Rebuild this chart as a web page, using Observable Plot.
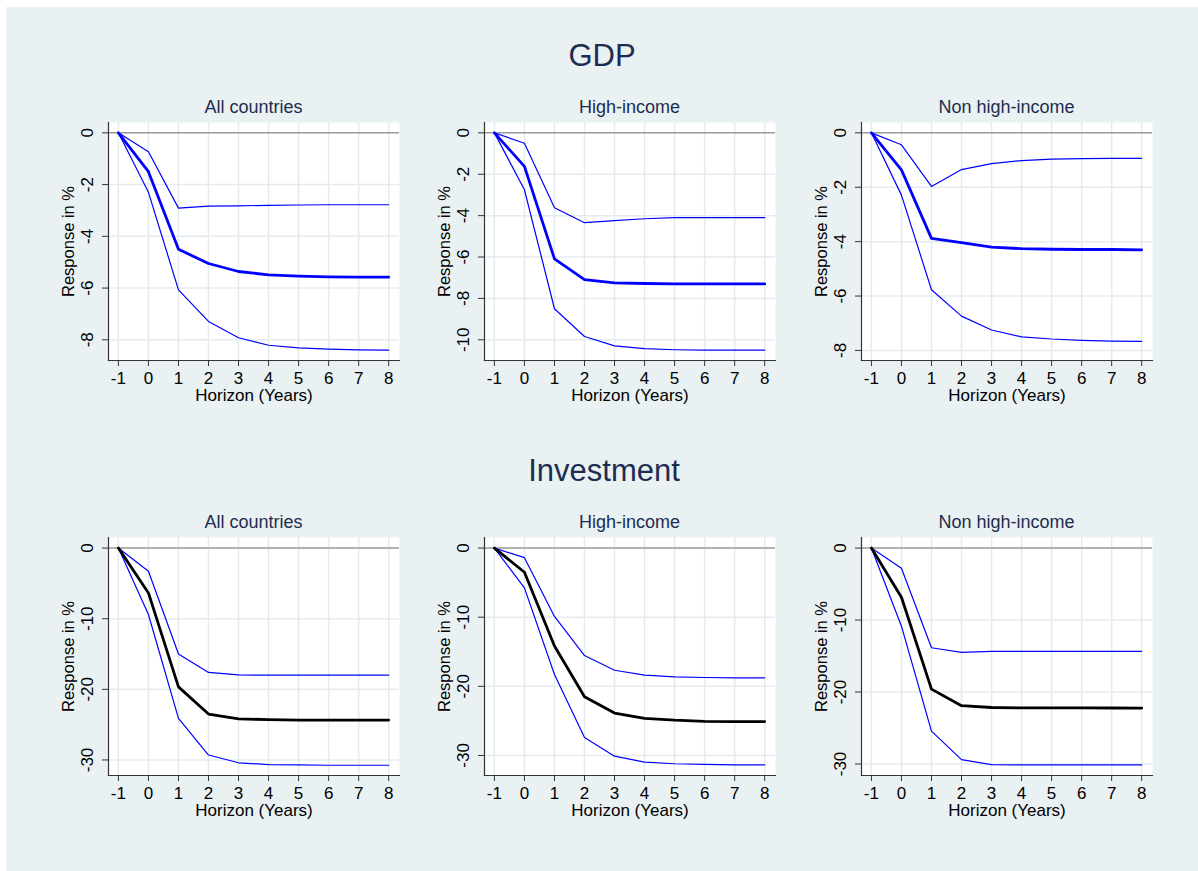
<!DOCTYPE html>
<html>
<head>
<meta charset="utf-8">
<script src="https://cdn.jsdelivr.net/npm/d3@7"></script>
<script src="https://cdn.jsdelivr.net/npm/@observablehq/plot@0.6"></script>
<style>
  html, body { margin: 0; padding: 0; background: #ffffff; }
  body { width: 1198px; height: 871px; position: relative; overflow: hidden; font-family: "Liberation Sans", Arial, sans-serif; }
  #bg { position: absolute; left: 6px; top: 7px; width: 1192px; height: 864px; background: #eaf1f3; }
  .ttl { position: absolute; transform: translate(-50%, -50%); line-height: 1; white-space: nowrap; color: #1c2d50; }
  .row { font-size: 31px; }
  .sub { font-size: 18px; }
  .panel { position: absolute; }
</style>
</head>
<body>
<div id="bg"></div>
<div id="root"></div>
<script>
// ---------- data ----------
const horizon = [-1, 0, 1, 2, 3, 4, 5, 6, 7, 8];

const rowTitles = ["GDP", "Investment"];
const groupTitles = ["All countries", "High-income", "Non high-income"];

// GDP – All countries
const gdpAllMid = [0, -1.50, -4.50, -5.05, -5.36, -5.49, -5.54, -5.57, -5.58, -5.58];
const gdpAllHi  = [0, -0.73, -2.91, -2.83, -2.82, -2.80, -2.79, -2.78, -2.78, -2.78];
const gdpAllLo  = [0, -2.30, -6.07, -7.29, -7.92, -8.21, -8.31, -8.36, -8.39, -8.40];
// GDP – High-income
const gdpHighMid = [0, -1.62, -6.09, -7.09, -7.25, -7.28, -7.30, -7.30, -7.30, -7.30];
const gdpHighHi  = [0, -0.50, -3.62, -4.34, -4.24, -4.15, -4.10, -4.10, -4.10, -4.10];
const gdpHighLo  = [0, -2.75, -8.50, -9.84, -10.29, -10.43, -10.48, -10.50, -10.50, -10.50];
// GDP – Non high-income
const gdpNonMid = [0, -1.36, -3.88, -4.04, -4.20, -4.26, -4.28, -4.29, -4.29, -4.30];
const gdpNonHi  = [0, -0.44, -1.97, -1.35, -1.13, -1.02, -0.97, -0.95, -0.94, -0.94];
const gdpNonLo  = [0, -2.29, -5.77, -6.74, -7.25, -7.50, -7.58, -7.63, -7.66, -7.67];
// Investment – All countries
const invAllMid = [0, -6.35, -19.65, -23.50, -24.17, -24.30, -24.35, -24.35, -24.35, -24.35];
const invAllHi  = [0, -3.29, -15.00, -17.60, -17.96, -18.00, -18.00, -18.00, -18.00, -18.00];
const invAllLo  = [0, -9.40, -24.10, -29.30, -30.40, -30.65, -30.70, -30.75, -30.75, -30.75];
// Investment – High-income
const invHighMid = [0, -3.50, -14.16, -21.50, -23.86, -24.63, -24.90, -25.06, -25.10, -25.10];
const invHighHi  = [0, -1.39, -9.89, -15.55, -17.67, -18.39, -18.63, -18.72, -18.77, -18.77];
const invHighLo  = [0, -5.76, -18.29, -27.41, -30.10, -30.97, -31.20, -31.30, -31.35, -31.35];
// Investment – Non high-income
const invNonMid = [0, -6.83, -19.60, -21.90, -22.15, -22.20, -22.20, -22.20, -22.22, -22.24];
const invNonHi  = [0, -2.80, -13.85, -14.49, -14.35, -14.35, -14.35, -14.35, -14.35, -14.35];
const invNonLo  = [0, -10.85, -25.43, -29.40, -30.09, -30.13, -30.13, -30.13, -30.13, -30.13];

const gdpTicksA = [0, -2, -4, -6, -8];
const gdpTicksB = [0, -2, -4, -6, -8, -10];
const invTicks = [0, -10, -20, -30];

// ---------- layout ----------
const colLeft = [108, 484, 861];
const rowTop = [122, 537];
const frameW = 291, frameH = 238;
const mL = 58, mT = 8, mR = 12, mB = 52;

const panels = [
  {row: 0, col: 0, mid: gdpAllMid,  hi: gdpAllHi,  lo: gdpAllLo,  ticks: gdpTicksA, yDom: [-8.80, 0.40],  midColor: "#0000ff"},
  {row: 0, col: 1, mid: gdpHighMid, hi: gdpHighHi, lo: gdpHighLo, ticks: gdpTicksB, yDom: [-11.0, 0.50],  midColor: "#0000ff"},
  {row: 0, col: 2, mid: gdpNonMid,  hi: gdpNonHi,  lo: gdpNonLo,  ticks: gdpTicksA, yDom: [-8.37, 0.38],  midColor: "#0000ff"},
  {row: 1, col: 0, mid: invAllMid,  hi: invAllHi,  lo: invAllLo,  ticks: invTicks,  yDom: [-32.2, 1.50],  midColor: "#000000"},
  {row: 1, col: 1, mid: invHighMid, hi: invHighHi, lo: invHighLo, ticks: invTicks,  yDom: [-32.9, 1.53],  midColor: "#000000"},
  {row: 1, col: 2, mid: invNonMid,  hi: invNonHi,  lo: invNonLo,  ticks: invTicks,  yDom: [-31.6, 1.47],  midColor: "#000000"}
];

const root = document.getElementById("root");

function addText(cls, txt, x, y) {
  const d = document.createElement("div");
  d.className = "ttl " + cls;
  d.textContent = txt;
  d.style.left = x + "px";
  d.style.top = y + "px";
  root.appendChild(d);
}

addText("row", rowTitles[0], 602, 55);
addText("row", rowTitles[1], 604, 470);

const toRows = arr => horizon.map((h, i) => ({h, v: arr[i]}));

for (const p of panels) {
  const fl = colLeft[p.col], ft = rowTop[p.row];
  addText("sub", groupTitles[p.col], fl + frameW / 2, ft - 15);

  const chart = Plot.plot({
    width: mL + frameW + mR,
    height: mT + frameH + mB,
    marginLeft: mL, marginTop: mT, marginRight: mR, marginBottom: mB,
    style: {background: "transparent", overflow: "visible", fontFamily: "'Liberation Sans', Arial, sans-serif", fontSize: "17px", color: "#000"},
    x: {domain: [-1.33, 8.36]},
    y: {domain: p.yDom},
    marks: [
      Plot.frame({fill: "#ffffff", stroke: null}),
      Plot.gridX({ticks: horizon, stroke: "#e3ebef", strokeOpacity: 1, strokeWidth: 1.5}),
      Plot.gridY({ticks: p.ticks, stroke: "#e3ebef", strokeOpacity: 1, strokeWidth: 1.5}),
      Plot.ruleY([0], {stroke: "#9c9c9c", strokeWidth: 1.5}),
      Plot.line(toRows(p.hi), {x: "h", y: "v", stroke: "#0000ff", strokeWidth: 1.2}),
      Plot.line(toRows(p.lo), {x: "h", y: "v", stroke: "#0000ff", strokeWidth: 1.2}),
      Plot.line(toRows(p.mid), {x: "h", y: "v", stroke: p.midColor, strokeWidth: 2.8}),
      Plot.frame({anchor: "left", stroke: "#333", strokeWidth: 1.2}),
      Plot.frame({anchor: "bottom", stroke: "#333", strokeWidth: 1.2}),
      Plot.axisX({ticks: horizon, tickSize: 6, tickPadding: 5, tickFormat: d => String(d), label: null, fontSize: 17, color: "#333", fill: "#000"}),
      Plot.axisY({ticks: p.ticks, tickSize: 6, tickPadding: 10, tickRotate: -90, tickFormat: d => String(d), label: null, fontSize: 17, color: "#333", fill: "#000"}),
      Plot.text(["Horizon (Years)"], {text: d => d, frameAnchor: "bottom", dy: 35, textAnchor: "middle", lineAnchor: "middle", fontSize: 17, fill: "#000"}),
      Plot.text(["Response in %"], {text: d => d, frameAnchor: "left", dx: -40, rotate: -90, textAnchor: "middle", lineAnchor: "middle", fontSize: 16.5, fill: "#000"})
    ]
  });
  chart.classList.add("panel");
  chart.style.left = (fl - mL) + "px";
  chart.style.top = (ft - mT) + "px";
  root.appendChild(chart);
}
</script>
</body>
</html>
